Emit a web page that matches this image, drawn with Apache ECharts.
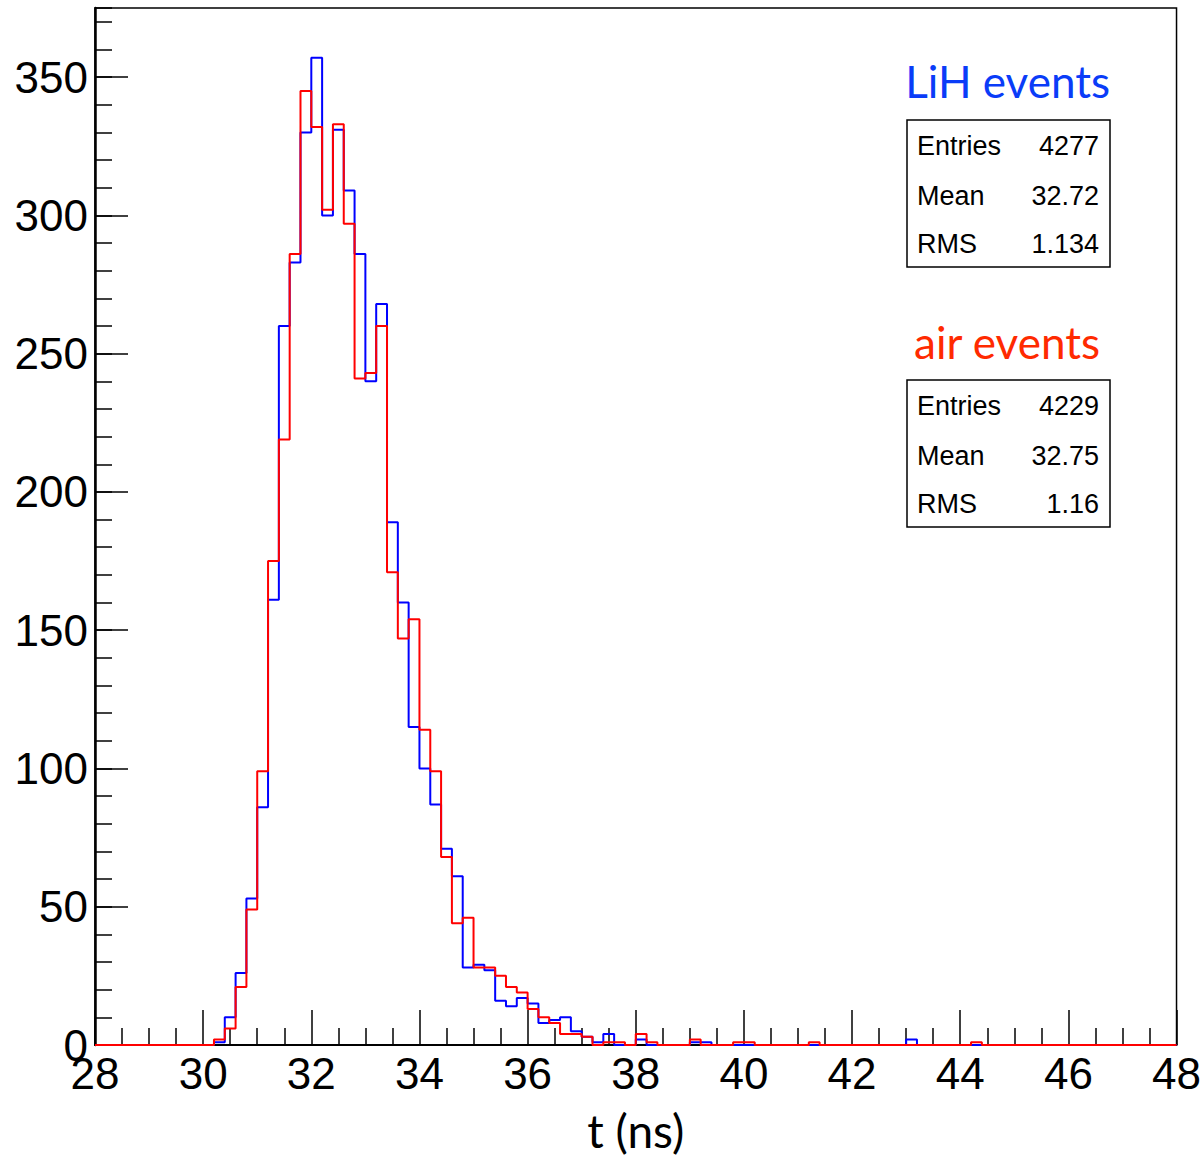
<!DOCTYPE html>
<html>
<head>
<meta charset="utf-8">
<script src="https://cdn.jsdelivr.net/npm/echarts@6/dist/echarts.min.js"></script>
<style>
    html, body { margin: 0; padding: 0; background: #fff; }
    #chart { width: 1204px; height: 1159px; }
</style>
</head>
<body>
<div id="chart"></div>
<script>
    // histogram binning: 100 bins of 0.2 ns from 28 ns
    const binStart = 28;
    const binWidth = 0.2;

    const lihCounts = [
        0, 0, 0, 0, 0, 0, 0, 0, 0, 0,
        0, 1, 10, 26, 53, 86, 161, 260, 283, 330,
        357, 300, 331, 309, 286, 240, 268, 189, 160, 115,
        100, 87, 71, 61, 28, 29, 27, 16, 14, 17,
        15, 8, 9, 10, 5, 3, 1, 4, 0, 0,
        2, 0, 0, 0, 0, 1, 1, 0, 0, 0,
        0, 0, 0, 0, 0, 0, 0, 0, 0, 0,
        0, 0, 0, 0, 0, 2, 0, 0, 0, 0,
        0, 0, 0, 0, 0, 0, 0, 0, 0, 0,
        0, 0, 0, 0, 0, 0, 0, 0, 0, 0
    ];

    const airCounts = [
        0, 0, 0, 0, 0, 0, 0, 0, 0, 0,
        0, 2, 6, 21, 49, 99, 175, 219, 286, 345,
        332, 302, 333, 297, 241, 243, 260, 171, 147, 154,
        114, 99, 68, 44, 46, 28, 28, 25, 21, 19,
        13, 10, 8, 4, 4, 3, 0, 1, 1, 0,
        4, 1, 0, 0, 0, 2, 0, 0, 0, 1,
        1, 0, 0, 0, 0, 0, 1, 0, 0, 0,
        0, 0, 0, 0, 0, 0, 0, 0, 0, 0,
        0, 1, 0, 0, 0, 0, 0, 0, 0, 0,
        0, 0, 0, 0, 0, 0, 0, 0, 0, 0
    ];

    const statLabels = ['Entries', 'Mean', 'RMS'];
    const lihStats = ['4277', '32.72', '1.134'];
    const airStats = ['4229', '32.75', '1.16'];

    // bin edges -> step points
    function toSteps(counts) {
        let pts = counts.map((c, i) => [Math.round((binStart + i * binWidth) * 100) / 100, c]);
        let lastEdge = Math.round((binStart + counts.length * binWidth) * 100) / 100;
        pts.push([lastEdge, counts[counts.length - 1]]);
        return pts;
    }

    // stats box (ROOT style)
    function statsBox(top, values) {
        let items = [{
            type: 'rect',
            shape: {x: 907, y: top, width: 203, height: 147},
            style: {fill: '#fff', stroke: '#000', lineWidth: 1.5}
        }];
        let rows = [top + 26, top + 76, top + 124];
        statLabels.forEach((lbl, i) => {
            items.push({
                type: 'text', x: 917, y: rows[i],
                style: {text: lbl, font: '27px "Liberation Sans", Arial', fill: '#000',
                    textAlign: 'left', textVerticalAlign: 'middle'}
            });
            items.push({
                type: 'text', x: 1099, y: rows[i],
                style: {text: values[i], font: '27px "Liberation Sans", Arial', fill: '#000',
                    textAlign: 'right', textVerticalAlign: 'middle'}
            });
        });
        return items;
    }

    const chart = echarts.init(document.getElementById('chart'), null, {renderer: 'svg'});

    const tickFont = '"Liberation Sans", Arial, sans-serif';

    const option = {
        backgroundColor: '#fff',
        animation: false,
        grid: {
            left: 95, right: 26, top: 8, bottom: 114,
            show: true, borderColor: '#000', borderWidth: 1.5
        },
        xAxis: {
            type: 'value',
            min: 28, max: 48, interval: 2,
            name: 't (ns)',
            nameLocation: 'middle',
            nameGap: 62,
            nameTextStyle: {fontFamily: 'Lato, "Open Sans", sans-serif', fontSize: 46, color: '#000'},
            axisLine: {onZero: false, lineStyle: {color: '#000', width: 2}},
            axisTick: {inside: true, length: 35, lineStyle: {color: '#000', width: 1.5}},
            minorTick: {show: true, splitNumber: 4, length: 17, lineStyle: {color: '#000', width: 1.5}},
            axisLabel: {fontFamily: tickFont, fontSize: 44, color: '#000', margin: 6},
            splitLine: {show: false}
        },
        yAxis: [
            {
                type: 'value',
                min: 0, max: 375, interval: 50,
                axisLine: {show: true, lineStyle: {color: '#000', width: 2.5}},
                axisTick: {show: true, inside: true, length: 33, lineStyle: {color: '#000', width: 1.5}},
                axisLabel: {fontFamily: tickFont, fontSize: 44, color: '#000', margin: 7, showMaxLabel: false},
                splitLine: {show: false}
            },
            {
                // minor ticks every 10
                type: 'value',
                position: 'left',
                offset: 0,
                min: 0, max: 375, interval: 10,
                axisLine: {show: false},
                axisTick: {show: true, inside: true, length: 17, lineStyle: {color: '#000', width: 1.5}},
                axisLabel: {show: false},
                splitLine: {show: false}
            }
        ],
        series: [
            {
                name: 'LiH events',
                type: 'line',
                step: 'end',
                symbol: 'none',
                yAxisIndex: 0,
                lineStyle: {color: '#0000ff', width: 2},
                data: toSteps(lihCounts)
            },
            {
                name: 'air events',
                type: 'line',
                step: 'end',
                symbol: 'none',
                yAxisIndex: 0,
                lineStyle: {color: '#ff0000', width: 2},
                data: toSteps(airCounts)
            }
        ],
        graphic: [
            {
                type: 'text', x: 1110, y: 81,
                style: {text: 'LiH events', font: '44px Lato, "Open Sans", sans-serif', fill: '#0a3cf8',
                    textAlign: 'right', textVerticalAlign: 'middle'}
            },
            {
                type: 'text', x: 1100, y: 342,
                style: {text: 'air events', font: '44px Lato, "Open Sans", sans-serif', fill: '#ff2a00',
                    textAlign: 'right', textVerticalAlign: 'middle'}
            }
        ].concat(statsBox(120, lihStats), statsBox(380, airStats))
    };

    chart.setOption(option);
</script>
</body>
</html>
